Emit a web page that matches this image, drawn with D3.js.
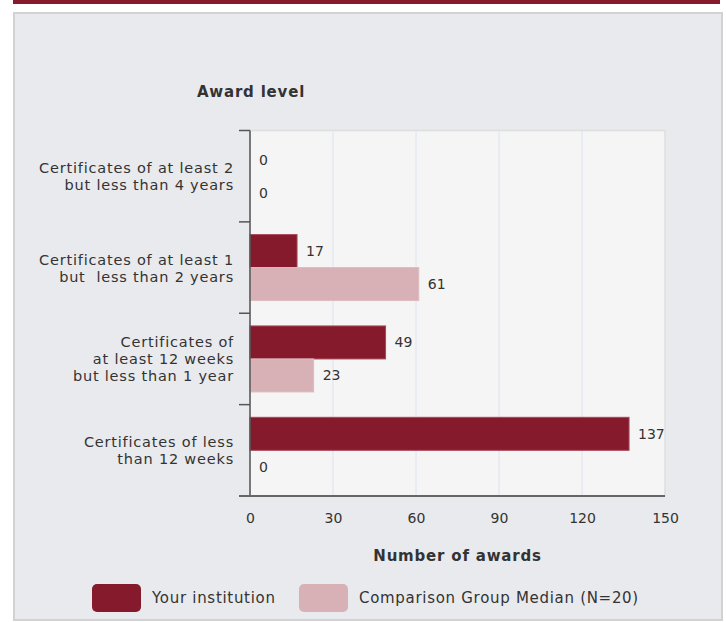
<!DOCTYPE html>
<html>
<head>
<meta charset="utf-8">
<script src="https://cdn.jsdelivr.net/npm/d3@7"></script>
<style>
  body { margin: 0; background: #ffffff; }
  svg { display: block; font-family: "DejaVu Sans", Verdana, sans-serif; }
</style>
</head>
<body>
<svg id="chart"></svg>
<script>
var width = 726;
var height = 622;

// chart values
var categories = [
    ["Certificates of at least 2", "but less than 4 years"],
    ["Certificates of at least 1", "but  less than 2 years"],
    ["Certificates of", "at least 12 weeks", "but less than 1 year"],
    ["Certificates of less", "than 12 weeks"]
];
var seriesNames = ["Your institution", "Comparison Group Median (N=20)"];
var institution = [0, 17, 49, 137];
var comparison = [0, 61, 23, 0];
var xTicks = [0, 30, 60, 90, 120, 150];

var colors = ["#841a2c", "#d8b1b6"];
var textColor = "#333333";

var plot = { left: 250, right: 665, top: 130.5, bottom: 496 };

var svg = d3.select("#chart")
    .attr("width", width)
    .attr("height", height);

// top band + panel
svg.append("rect")
    .attr("x", 13).attr("y", 0)
    .attr("width", 707).attr("height", 4)
    .attr("fill", "#861b2d");
svg.append("rect")
    .attr("x", 14).attr("y", 13)
    .attr("width", 708).attr("height", 607)
    .attr("fill", "#e9eaee")
    .attr("stroke", "#d2d2d2")
    .attr("stroke-width", 2);

var x = d3.scaleLinear()
    .domain([0, 150])
    .range([plot.left, plot.right]);

var y = d3.scaleBand()
    .domain(d3.range(categories.length))
    .range([plot.top, plot.bottom])
    .padding(0);

var sub = d3.scaleBand()
    .domain([0, 1])
    .range([0, y.bandwidth()])
    .paddingInner(0)
    .paddingOuter(0.385);

// plot background
svg.append("rect")
    .attr("x", plot.left).attr("y", plot.top)
    .attr("width", plot.right - plot.left)
    .attr("height", plot.bottom - plot.top)
    .attr("fill", "#f5f5f5")
    .attr("stroke", "#dedede")
    .attr("stroke-width", 1.5);

// gridlines
svg.append("g")
    .selectAll("line")
    .data(xTicks.filter(function (d) { return d > 0 && d < 150; }))
    .enter()
    .append("line")
    .attr("x1", function (d) { return x(d); })
    .attr("x2", function (d) { return x(d); })
    .attr("y1", plot.top)
    .attr("y2", plot.bottom)
    .attr("stroke", "#dce3ef")
    .attr("stroke-width", 1);

// bars
var rows = categories.map(function (c, i) {
    return { i: i, values: [institution[i], comparison[i]] };
});

var rowG = svg.append("g")
    .selectAll("g")
    .data(rows)
    .enter()
    .append("g")
    .attr("transform", function (d) { return "translate(0," + y(d.i) + ")"; });

var cells = rowG.selectAll("g")
    .data(function (d) {
        return d.values.map(function (v, k) { return { k: k, v: v }; });
    })
    .enter()
    .append("g");

cells.filter(function (d) { return d.v > 0; })
    .append("rect")
    .attr("x", x(0))
    .attr("y", function (d) { return sub(d.k); })
    .attr("width", function (d) { return x(d.v) - x(0); })
    .attr("height", sub.bandwidth())
    .attr("fill", function (d) { return colors[d.k]; })
    .attr("stroke", function (d) { return d.k === 0 ? "#a8475a" : "#dcbcc0"; })
    .attr("stroke-width", 1);

cells.append("text")
    .attr("x", function (d) { return x(d.v) + 9; })
    .attr("y", function (d) { return sub(d.k) + sub.bandwidth() / 2; })
    .attr("dy", "0.35em")
    .attr("fill", textColor)
    .style("font-size", "14px")
    .text(function (d) { return d.v; });

// left axis
var yAxis = svg.append("g");
yAxis.append("line")
    .attr("x1", plot.left).attr("x2", plot.left)
    .attr("y1", plot.top).attr("y2", plot.bottom)
    .attr("stroke", "#555").attr("stroke-width", 1.5);
yAxis.selectAll(".tick")
    .data(d3.range(categories.length + 1))
    .enter()
    .append("line")
    .attr("class", "tick")
    .attr("x1", plot.left - 11).attr("x2", plot.left)
    .attr("y1", function (d) { return d < categories.length ? y(d) : plot.bottom; })
    .attr("y2", function (d) { return d < categories.length ? y(d) : plot.bottom; })
    .attr("stroke", "#555").attr("stroke-width", 1.5);

// category labels, one text per line
var lineH = 17;
var labelLines = [];
rows.forEach(function (d) {
    var lines = categories[d.i];
    var mid = y(d.i) + y.bandwidth() / 2;
    var first = mid - (lines.length - 1) * lineH / 2;
    lines.forEach(function (l, j) {
        labelLines.push({ text: l, y: first + j * lineH + 5.5 });
    });
});
svg.append("g")
    .selectAll("text")
    .data(labelLines)
    .enter()
    .append("text")
    .attr("x", 234)
    .attr("y", function (d) { return d.y; })
    .attr("text-anchor", "end")
    .attr("fill", textColor)
    .style("font-size", "14.5px")
    .style("letter-spacing", "0.8px")
    .style("white-space", "pre")
    .text(function (d) { return d.text; });

// bottom axis
var xAxis = d3.axisBottom(x)
    .tickValues(xTicks)
    .tickSize(0)
    .tickPadding(17);
var xg = svg.append("g")
    .attr("transform", "translate(0," + plot.bottom + ")")
    .call(xAxis);
xg.select(".domain").remove();
xg.selectAll("text")
    .attr("fill", textColor)
    .style("font-size", "14px")
    .style("font-family", "DejaVu Sans, sans-serif");
svg.append("line")
    .attr("x1", plot.left - 11).attr("x2", plot.right)
    .attr("y1", plot.bottom).attr("y2", plot.bottom)
    .attr("stroke", "#666").attr("stroke-width", 2);

// titles
svg.append("text")
    .attr("x", 251).attr("y", 97)
    .attr("text-anchor", "middle")
    .attr("fill", textColor)
    .style("font-size", "15px")
    .style("letter-spacing", "0.8px")
    .style("font-weight", "bold")
    .text("Award level");

svg.append("text")
    .attr("x", (plot.left + plot.right) / 2).attr("y", 561)
    .attr("text-anchor", "middle")
    .attr("fill", textColor)
    .style("font-size", "15px")
    .style("letter-spacing", "0.8px")
    .style("font-weight", "bold")
    .text("Number of awards");

// legend
var legendX = [92, 299];
var legend = svg.append("g")
    .selectAll("g")
    .data(seriesNames)
    .enter()
    .append("g")
    .attr("transform", function (d, i) { return "translate(" + legendX[i] + ",584)"; });
legend.append("rect")
    .attr("width", 49).attr("height", 28)
    .attr("rx", 5)
    .attr("fill", function (d, i) { return colors[i]; });
legend.append("text")
    .attr("x", 60).attr("y", 19)
    .attr("fill", textColor)
    .style("font-size", "15px")
    .style("letter-spacing", "0.7px")
    .text(function (d) { return d; });
</script>
</body>
</html>
